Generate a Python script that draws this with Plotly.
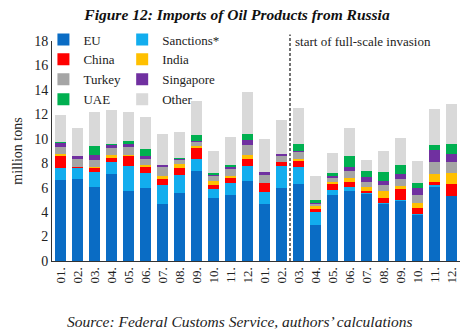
import plotly.graph_objects as go

periods = [f"{m:02d}.{y}" for y in (2021, 2022) for m in range(1, 13)]
tick_labels = [f"{m:02d}." for m in range(1, 13)] * 2

eu        = [6.6, 6.7, 6.05, 7.15, 5.7, 5.97, 4.68, 5.53, 7.37, 5.18, 5.42, 6.57,
             4.68, 5.97, 6.3, 2.96, 5.37, 5.7, 5.5, 4.71, 4.98, 3.78, 6.13, 5.31]
sanctions = [1.05, 0.96, 1.24, 0.96, 2.1, 1.23, 1.5, 1.53, 1.01, 0.74, 0.93, 1.23,
             0.96, 1.84, 1.37, 1.07, 0.44, 0.33, 0.1, 0.03, 0.05, 0.05, 0.05, 0.0]
china     = [0.95, 0.05, 0.32, 0.38, 0.83, 0.5, 0.52, 0.52, 0.9, 0.33, 0.47, 0.52,
             0.77, 0.27, 0.55, 0.22, 0.49, 0.41, 0.14, 0.41, 0.85, 0.5, 0.3, 0.99]
india     = [0.15, 0.0, 0.1, 0.15, 0.03, 0.13, 0.25, 0.36, 0.14, 0.27, 0.16, 0.38,
             0.0, 0.0, 0.16, 0.27, 0.19, 0.35, 0.3, 0.58, 0.27, 0.38, 0.6, 0.93]
turkey    = [0.55, 0.65, 0.52, 0.6, 0.68, 0.55, 0.79, 0.38, 0.33, 0.47, 0.58, 0.77,
             0.63, 0.49, 0.55, 0.16, 0.3, 0.6, 0.41, 0.46, 0.55, 0.66, 0.99, 0.88]
singapore = [0.4, 0.2, 0.47, 0.27, 0.27, 0.2, 0.14, 0.05, 0.05, 0.05, 0.14, 0.44,
             0.22, 0.22, 0.05, 0.05, 0.19, 0.27, 0.41, 0.33, 0.41, 0.63, 1.01, 0.63]
uae       = [0.05, 0.0, 0.68, 0.1, 0.22, 0.6, 0.0, 0.05, 0.52, 0.2, 0.13, 0.52,
             0.0, 0.0, 0.57, 0.25, 0.19, 0.9, 0.52, 0.8, 0.74, 0.41, 0.41, 0.85]
other     = [2.2, 2.33, 2.8, 2.75, 2.35, 2.6, 2.55, 2.16, 2.74, 1.78, 2.3, 3.42,
             2.76, 2.74, 3.0, 2.0, 1.7, 2.33, 0.9, 1.64, 2.22, 1.75, 2.96, 3.28]

series = [
    ("EU", eu, "#0A6CC4", "legend"),
    ("Sanctions*", sanctions, "#12ADEE", "legend2"),
    ("China", china, "#FF0000", "legend"),
    ("India", india, "#FFC000", "legend2"),
    ("Turkey", turkey, "#A5A5A5", "legend"),
    ("Singapore", singapore, "#7030A0", "legend2"),
    ("UAE", uae, "#00B050", "legend"),
    ("Other", other, "#D9D9D9", "legend2"),
]

SERIF = "Liberation Serif, Times New Roman, serif"

fig = go.Figure()
for name, vals, color, leg in series:
    fig.add_trace(go.Bar(x=periods, y=vals, name=name, marker_color=color,
                         marker_line_width=0, legend=leg))

legend_style = dict(yanchor="top", xanchor="left", y=1.075,
                    font=dict(family=SERIF, size=13, color="#222"),
                    bgcolor="rgba(0,0,0,0)", traceorder="normal", itemwidth=30)

fig.update_layout(
    barmode="stack",
    bargap=0.3,
    width=474, height=336,
    margin=dict(l=51.5, r=13.5, t=41, b=75, autoexpand=False),
    paper_bgcolor="white", plot_bgcolor="white",
    font=dict(family=SERIF, size=14, color="#222"),
    title=dict(text="<b><i>Figure 12: Imports of Oil Products from Russia</i></b>",
               x=0.5, xanchor="center", y=0.958, yanchor="middle",
               font=dict(family=SERIF, size=15.5, color="#111")),
    legend=dict(x=-0.021, **legend_style),
    legend2=dict(x=0.172, **legend_style),
    xaxis=dict(tickmode="array", tickvals=periods, ticktext=tick_labels,
               tickangle=-90, showline=True, linecolor="#333", linewidth=1,
               ticks="", showgrid=False, tickfont=dict(size=13)),
    yaxis=dict(range=[0, 18], dtick=2, showline=True, linecolor="#333",
               linewidth=1, ticks="", showgrid=False, zeroline=False,
               title=dict(text="million tons", standoff=8, font=dict(size=14)),
               tickfont=dict(size=14)),
    shapes=[dict(type="line", xref="x", yref="paper", x0=13.5, x1=13.5,
                 y0=0, y1=1.03, line=dict(color="#444", width=1.5, dash="3px,2px"))],
    annotations=[
        dict(text="start of full-scale invasion", xref="x", yref="paper",
             x=13.5, y=1.0, xanchor="left", yanchor="middle", xshift=3,
             showarrow=False, font=dict(family=SERIF, size=13, color="#222")),
        dict(text="<i>Source: Federal Customs Service, authors\u2019 calculations</i>",
             xref="paper", yref="paper", x=0.46, y=-0.277, xanchor="center",
             yanchor="middle", showarrow=False,
             font=dict(family=SERIF, size=15.5, color="#222")),
    ],
)

fig.write_html("out.html")
